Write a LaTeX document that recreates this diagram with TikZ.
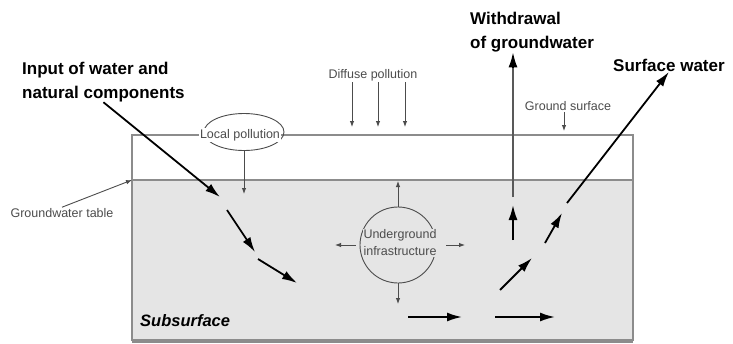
\documentclass[tikz,border=0pt]{standalone}
\usepackage{fontspec}
\setmainfont{Liberation Sans}
\usetikzlibrary{arrows.meta,shapes.geometric}
\definecolor{edgegray}{gray}{0.55}
\definecolor{soilgray}{gray}{0.9}
\definecolor{labelgray}{gray}{0.3}
\definecolor{wellgray}{gray}{0.35}

\begin{document}
\begin{tikzpicture}[x=1pt,y=-1pt,
    big/.style={font=\fontsize{17}{24}\selectfont\bfseries, align=left, inner sep=0pt},
    small/.style={font=\fontsize{12.5}{17}\selectfont, text=labelgray, inner sep=1pt},
    flow/.style={-{Latex[length=15pt,width=9pt]}, line width=1.8pt},
    thin/.style={-{Latex[length=6pt,width=4.5pt]}, line width=0.9pt, labelgray}]
    \useasboundingbox (0,0) rectangle (733,343);

    % ground body
    \fill[soilgray] (132,180) rectangle (633,340);
    \draw[edgegray, line width=2pt] (132,135) rectangle (633,340);
    \draw[edgegray, line width=3pt] (132,341) -- (633,341);
    \draw[edgegray, line width=2.5pt] (132,180) coordinate (tablewest) -- (633,180);

    % labels
    \node[big, anchor=north west] (input) at (22,62) {Input of water and\\natural components};
    \node[big, anchor=north west] (withdraw) at (470,12) {Withdrawal\\of groundwater};
    \node[big, anchor=north west] (surface) at (613,59) {Surface water};
    \node[font=\fontsize{16.5}{18}\selectfont\bfseries\itshape, anchor=west, inner sep=0pt] (subsurf) at (140,321) {Subsurface};
    \node[small] (diffuse) at (373,75) {Diffuse pollution};
    \node[small] (gsurf) at (568,106) {Ground surface};
    \node[small] (gwt) at (62,213) {Groundwater table};

    % local pollution
    \node[ellipse, draw=labelgray, line width=0.9pt, minimum width=80pt, minimum height=37pt] (localring) at (244,132) {};
    \node[small, fill=white] (localpol) at (240,135) {Local pollution};
    \draw[thin] (localring.south) -- (244,194);

    % underground infrastructure
    \node[circle, draw=labelgray, line width=0.9pt, minimum size=76pt] (infra) at (398,245) {};
    \node[small, fill=soilgray, align=center, inner sep=0.5pt] (infratext) at (400,243) {Underground\\infrastructure};
    \draw[thin] (infra.north) -- (398,181);
    \draw[thin] (infra.south) -- (398,304);
    \draw[thin] ([xshift=-4pt]infra.west) -- (335,245);
    \draw[thin] ([xshift=10pt]infra.east) -- (465,245);

    \foreach \x in {352,378,405}
        \draw[thin] (\x,0 |- diffuse.south) -- (\x,127);
    \draw[thin] (564,0 |- gsurf.south) -- (564,131);
    \draw[thin] (gwt.north) -- (tablewest);

    % water input path
    \draw[flow] (input.south) -- (220,197);
    \draw[flow] (227,210) -- (255,252);
    \draw[flow] (258,259) -- (297,283);

    % withdrawal
    \draw[wellgray, line width=1.8pt] (513,197) -- (513,64);
    \draw[flow] (513,68) -- (513,0 |- withdraw.south);
    \draw[flow] (513,240) -- (513,205);

    % towards surface water
    \draw[flow] (567,203) -- (surface.south);
    \draw[flow] (545,243) -- (562,213);
    \draw[flow] (500,290) -- (532,258);

    % lateral flow
    \draw[flow] (408,317) -- (462,317);
    \draw[flow] (495,317) -- (555,317);
\end{tikzpicture}
\end{document}
